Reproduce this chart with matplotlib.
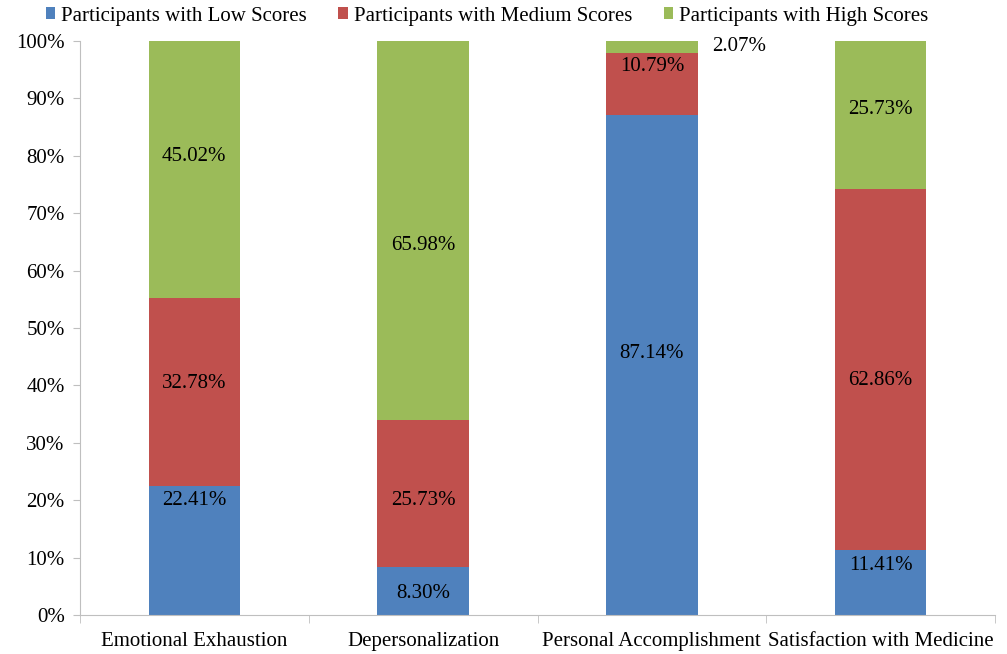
import matplotlib
matplotlib.use("Agg")
import matplotlib.pyplot as plt
from matplotlib.patches import Patch
import numpy as np

categories = ["Emotional Exhaustion", "Depersonalization", "Personal Accomplishment", "Satisfaction with Medicine"]
low = [22.41, 8.30, 87.14, 11.41]
medium = [32.78, 25.73, 10.79, 62.86]
high = [45.02, 65.98, 2.07, 25.73]
series_names = ["Participants with Low Scores", "Participants with Medium Scores", "Participants with High Scores"]

# label placement (layout), in axis percent
label_y = [
    [20.0, 3.7, 45.6, 8.7],
    [40.4, 20.0, 95.5, 40.8],
    [79.8, 64.3, 99.0, 88.0],
]
label_dx = [[0, 0, 0, 0], [0, 0, 0, 0], [0, 0, 0.38, 0]]

colors = ["#4F81BD", "#C0504D", "#9BBB59"]
FS = 15

plt.rcParams['font.family'] = ['Liberation Serif', 'DejaVu Serif']
fig = plt.figure(figsize=(10.07, 6.54), dpi=100)
ax = fig.add_axes([80/1007, 39/654, (995-80)/1007, (615-41)/654])

x = np.arange(len(categories))
w = 0.4
bottom = np.zeros(len(categories))
for vals, c, name in zip([low, medium, high], colors, series_names):
    ax.bar(x, vals, w, bottom=bottom, color=c, label=name, zorder=2)
    bottom += np.array(vals)

for si, vals in enumerate([low, medium, high]):
    for ci, v in enumerate(vals):
        ax.text(x[ci] + label_dx[si][ci], label_y[si][ci], f"{v:.2f}%", ha="center", va="center",
                fontsize=FS, color="black")

ax.set_xlim(-0.5, len(categories) - 0.5)
ax.set_ylim(0, 100)
ax.set_yticks(np.arange(0, 101, 10))
ax.set_yticklabels([f"{t}%" for t in range(0, 101, 10)], fontsize=FS)
ax.set_xticks(x)
ax.set_xticklabels(categories, fontsize=FS)
ax.tick_params(axis="x", length=0, pad=12)
ax.set_xticks(np.arange(-0.5, len(categories), 1), minor=True)
ax.tick_params(axis="x", which="minor", length=6, color="#BFBFBF")
ax.tick_params(axis="y", length=5, color="#BFBFBF", pad=6)
for s in ["top", "right"]:
    ax.spines[s].set_visible(False)
for s in ["left", "bottom"]:
    ax.spines[s].set_color("#BFBFBF")

handles = [Patch(facecolor=c, label=n) for c, n in zip(colors, series_names)]
fig.legend(handles=handles, loc="center", bbox_to_anchor=(487/1007, 1 - 16/654), ncol=3,
           frameon=False, fontsize=FS, handlelength=0.45, handleheight=0.45, handletextpad=0.3,
           columnspacing=1.5)

fig.savefig("out.png", dpi=100)
